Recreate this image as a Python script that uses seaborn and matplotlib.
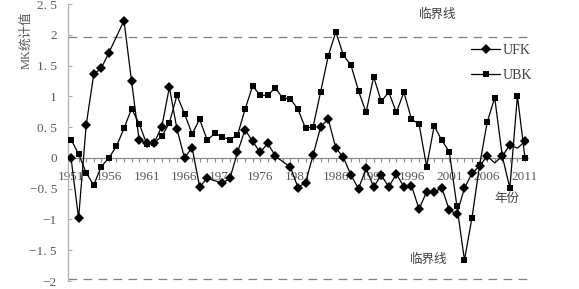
import matplotlib
matplotlib.use("Agg")
import matplotlib.pyplot as plt
from matplotlib.lines import Line2D
from matplotlib.ticker import FixedLocator, FixedFormatter, MultipleLocator
import seaborn as sns
import pandas as pd

years = list(range(1951, 2012))
ufk = [0.00, -0.98, 0.53, 1.36, 1.46, 1.71, 1.97, 2.23, 1.25, 0.29,
       0.24, 0.25, 0.51, 1.15, 0.47, 0.00, 0.17, -0.47, -0.33, -0.37,
       -0.41, -0.33, 0.09, 0.46, 0.27, 0.09, 0.24, 0.03, -0.06, -0.15,
       -0.48, -0.40, 0.05, 0.51, 0.63, 0.16, 0.01, -0.28, -0.50, -0.17,
       -0.47, -0.28, -0.47, -0.26, -0.47, -0.45, -0.83, -0.55, -0.56, -0.48,
       -0.85, -0.91, -0.49, -0.25, -0.13, 0.03, -0.08, 0.03, 0.21, 0.16, 0.27]
ubk = [0.30, 0.065, -0.24, -0.44, -0.14, 0.00, 0.19, 0.48, 0.80, 0.56,
       0.23, 0.25, 0.35, 0.57, 1.02, 0.72, 0.39, 0.63, 0.29, 0.40,
       0.34, 0.30, 0.37, 0.79, 1.17, 1.02, 1.02, 1.14, 0.97, 0.96,
       0.79, 0.48, 0.51, 1.08, 1.66, 2.05, 1.67, 1.51, 1.09, 0.74,
       1.32, 0.92, 1.07, 0.74, 1.07, 0.63, 0.55, -0.14, 0.52, 0.29,
       0.10, -0.78, -1.66, -0.97, -0.12, 0.58, 0.98, 0.03, -0.49, 1.01, 0.00]
# years of UFK whose markers are not shown in the chart
ufk_no_marker = [1957, 1970, 1979, 2007, 2010]
critical = 1.96
x_tick_years = list(range(1951, 2012, 5))
y_ticks = [-2, -1.5, -1, -0.5, 0, 0.5, 1, 1.5, 2, 2.5]
y_tick_labels = ['−2', '−1. 5', '−1', '−0. 5', '0', '0. 5', '1', '1. 5', '2', '2. 5']

sns.set_style("white")
plt.rcParams['font.family'] = ['Liberation Serif', 'Noto Sans CJK SC', 'DejaVu Sans']
plt.rcParams['axes.unicode_minus'] = True

W, H = 579, 289
fig = plt.figure(figsize=(W / 100, H / 100), dpi=100)
ax = fig.add_axes([68 / W, 1 - 281 / H, (528 - 68) / W, (281 - 4.2) / H])

df_ufk = pd.DataFrame({'year': years, 'value': ufk})
df_ubk = pd.DataFrame({'year': years, 'value': ubk})
mk_idx = [i for i, y in enumerate(years) if y not in ufk_no_marker]

sns.lineplot(data=df_ufk, x='year', y='value', ax=ax, color='black', lw=0.9,
             marker='D', markersize=5.3, markeredgewidth=0, markevery=mk_idx,
             zorder=3)
sns.lineplot(data=df_ubk, x='year', y='value', ax=ax, color='black', lw=0.9,
             marker='s', markersize=4.8, markeredgewidth=0, zorder=4)

ax.axhline(critical, color='#7f7f7f', lw=0.9, ls=(0, (7, 5)), zorder=1)
ax.axhline(-critical, color='#7f7f7f', lw=0.9, ls=(0, (7, 5)), zorder=1)

ax.set_xlim(1950.6, 2011.4)
ax.set_ylim(-2, 2.5)
ax.set_xlabel('')
ax.set_ylabel('')

for s in ['top', 'right']:
    ax.spines[s].set_visible(False)
ax.spines['left'].set_color('#b0b0b0')
ax.spines['left'].set_linewidth(0.9)
ax.spines['bottom'].set_position(('data', 0))
ax.spines['bottom'].set_color('#8a8a8a')
ax.spines['bottom'].set_linewidth(0.9)

ax.xaxis.set_major_locator(FixedLocator(x_tick_years))
ax.xaxis.set_major_formatter(FixedFormatter([str(y) for y in x_tick_years]))
ax.xaxis.set_minor_locator(MultipleLocator(1))
ax.tick_params(axis='x', which='both', direction='out', length=3.2, width=0.8,
               color='#8a8a8a', labelsize=9.5, labelcolor='#595959', pad=6)
ax.yaxis.set_major_locator(FixedLocator(y_ticks))
ax.yaxis.set_major_formatter(FixedFormatter(y_tick_labels))
ax.tick_params(axis='y', which='major', direction='in', length=3, width=0.8,
               color='#b0b0b0', labelsize=9.5, labelcolor='#595959', pad=8)
ax.tick_params(left=True, bottom=True)
ax.tick_params(axis='x', which='minor', bottom=True)

handles = [Line2D([], [], color='black', lw=0.9, marker='D', markersize=5.3, markeredgewidth=0),
           Line2D([], [], color='black', lw=0.9, marker='s', markersize=4.8, markeredgewidth=0)]
leg = ax.legend(handles, ['UFK', 'UBK'], frameon=False, loc='upper left',
                bbox_to_anchor=(471 / W, 1 - 44 / H), bbox_transform=fig.transFigure,
                borderpad=0, borderaxespad=0, handlelength=2.1, handletextpad=0.2,
                labelspacing=0.85, fontsize=10)
for t in leg.get_texts():
    t.set_color('#404040')

fig.text(438 / W, 1 - 15 / H, '临界线', ha='center', va='center', fontsize=9,
         color='#404040')
fig.text(429 / W, 1 - 260 / H, '临界线', ha='center', va='center', fontsize=9,
         color='#404040')
fig.text(506.7 / W, 1 - 199 / H, '年份', ha='center', va='center', fontsize=9,
         color='#404040')
fig.text(26.7 / W, 1 - 40 / H, 'MK统计值', ha='center', va='center', fontsize=9,
         rotation=90, color='#595959')

fig.savefig('out.png', dpi=100)
